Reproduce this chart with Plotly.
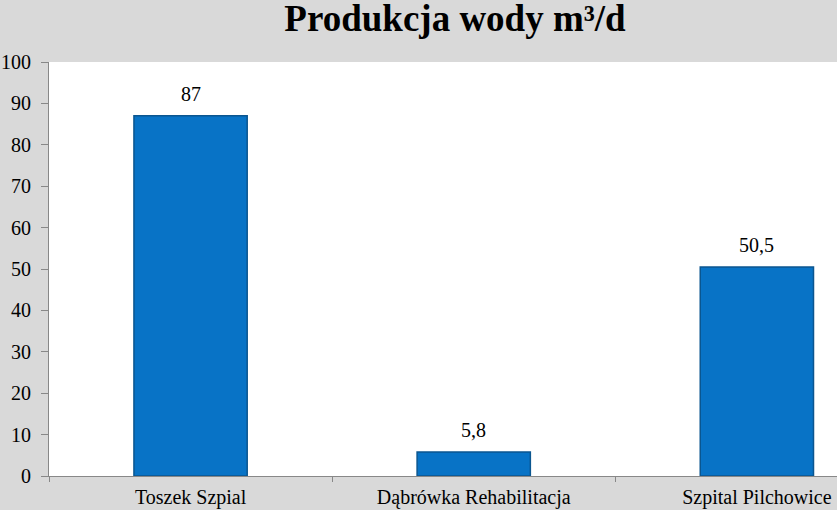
import plotly.graph_objects as go

# chart data
categories = ["Toszek Szpial", "Dąbrówka Rehabilitacja", "Szpital Pilchowice"]
values = [87, 5.8, 50.5]
y_ticks = [0, 10, 20, 30, 40, 50, 60, 70, 80, 90, 100]

# polish decimal comma for the labels
labels = [f"{v:g}".replace(".", ",") for v in values]

serif = "Liberation Serif"

fig = go.Figure()
fig.add_trace(go.Bar(
    x=categories,
    y=values,
    marker=dict(color="#0873c6", line=dict(color="#0b5690", width=1.5)),
    width=0.4,
))

# value labels a bit above the bars, like the original
for c, v, t in zip(categories, values, labels):
    fig.add_annotation(x=c, y=v, text=t, showarrow=False, yanchor="bottom",
                       yshift=9, font=dict(family=serif, size=20, color="black"))

fig.update_layout(
    width=837,
    height=510,
    margin=dict(l=49, r=0, t=62, b=34),
    paper_bgcolor="#d9d9d9",
    plot_bgcolor="white",
    showlegend=False,
    font=dict(family=serif, color="black"),
    title=dict(
        text="<b>Produkcja wody m³/d</b>",
        font=dict(family=serif, size=37, color="black"),
        x=455 / 837,
        xanchor="center",
        y=1 - 18 / 510,
        yanchor="middle",
    ),
)

fig.update_xaxes(
    type="category",
    range=[-0.5, 2.283],
    tickson="boundaries",
    ticks="outside",
    ticklen=5,
    tickcolor="#888888",
    showline=True,
    linecolor="#888888",
    linewidth=1,
    showgrid=False,
    ticklabelstandoff=3,
    tickfont=dict(family=serif, size=20, color="black"),
)
fig.update_yaxes(
    range=[0, 100],
    tickvals=y_ticks,
    ticks="outside",
    ticklen=7,
    tickcolor="#888888",
    showline=True,
    linecolor="#888888",
    linewidth=1,
    showgrid=False,
    zeroline=False,
    ticklabelstandoff=6,
    tickfont=dict(family=serif, size=20, color="black"),
)

fig.write_html("out.html", config={"displayModeBar": False},
               post_script="document.body.style.margin='0';")
